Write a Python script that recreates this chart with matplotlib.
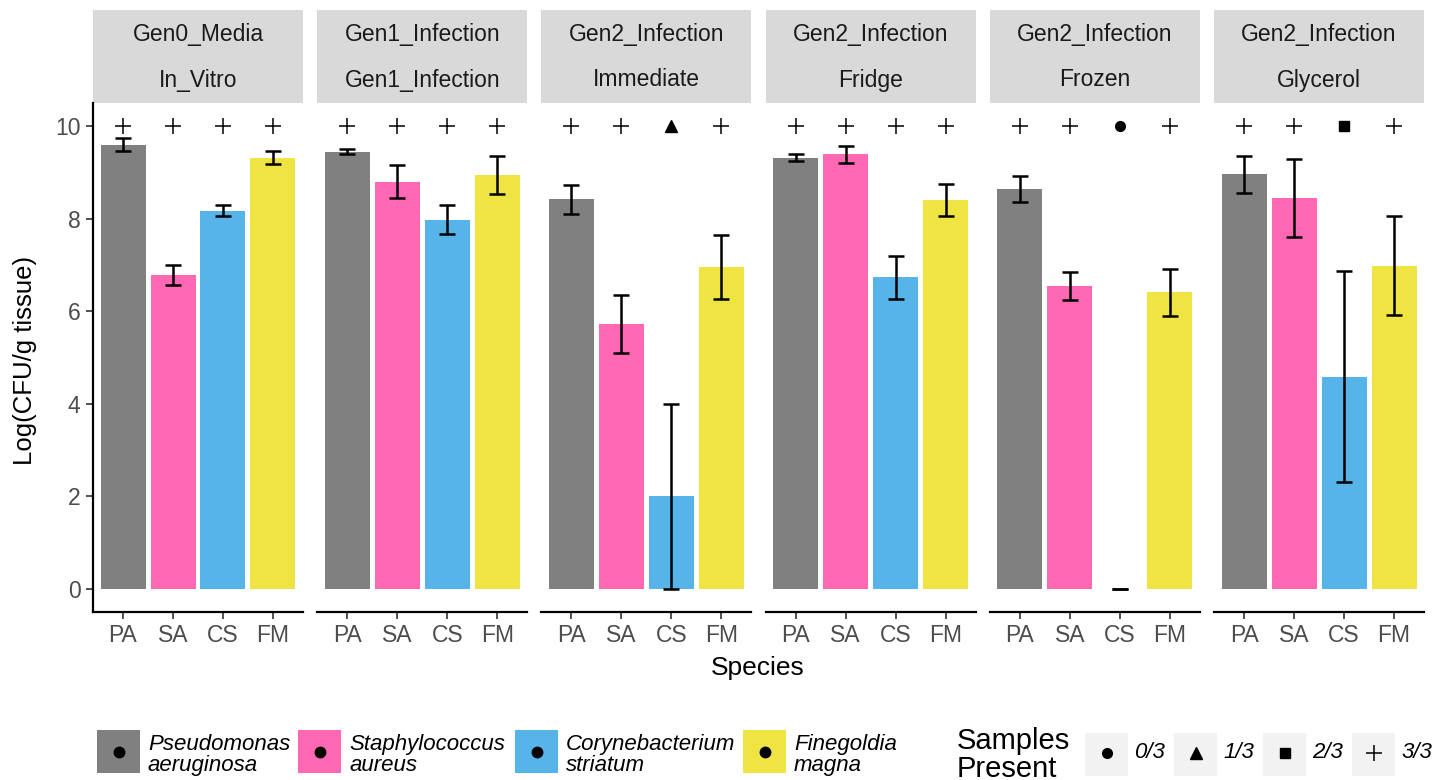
import numpy as np
import matplotlib
matplotlib.use("Agg")
import matplotlib.pyplot as plt
from matplotlib.patches import Rectangle

plt.rcParams['font.family'] = ['Liberation Sans', 'DejaVu Sans']

# ===== data =====
species = ['PA', 'SA', 'CS', 'FM']
species_full = ['Pseudomonas\naeruginosa', 'Staphylococcus\naureus',
                'Corynebacterium\nstriatum', 'Finegoldia\nmagna']
species_colors = ['#808080', '#FF69B4', '#56B4E9', '#F0E442']

strip_top = ['Gen0_Media', 'Gen1_Infection', 'Gen2_Infection',
             'Gen2_Infection', 'Gen2_Infection', 'Gen2_Infection']
strip_bottom = ['In_Vitro', 'Gen1_Infection', 'Immediate',
                'Fridge', 'Frozen', 'Glycerol']

mean_in_vitro = [9.60, 6.78, 8.17, 9.32]
mean_gen1 = [9.45, 8.80, 7.98, 8.94]
mean_immediate = [8.42, 5.72, 2.00, 6.95]
mean_fridge = [9.32, 9.39, 6.73, 8.40]
mean_frozen = [8.64, 6.54, 0.00, 6.41]
mean_glycerol = [8.96, 8.45, 4.58, 6.98]

err_in_vitro = [0.14, 0.22, 0.12, 0.14]
err_gen1 = [0.05, 0.35, 0.31, 0.41]
err_immediate = [0.31, 0.63, 2.00, 0.69]
err_fridge = [0.07, 0.18, 0.47, 0.34]
err_frozen = [0.28, 0.30, 0.00, 0.51]
err_glycerol = [0.40, 0.84, 2.28, 1.07]

present_in_vitro = ['3/3', '3/3', '3/3', '3/3']
present_gen1 = ['3/3', '3/3', '3/3', '3/3']
present_immediate = ['3/3', '3/3', '1/3', '3/3']
present_fridge = ['3/3', '3/3', '3/3', '3/3']
present_frozen = ['3/3', '3/3', '0/3', '3/3']
present_glycerol = ['3/3', '3/3', '2/3', '3/3']

present_levels = ['0/3', '1/3', '2/3', '3/3']
present_marker_y = 10

means = [mean_in_vitro, mean_gen1, mean_immediate, mean_fridge, mean_frozen, mean_glycerol]
errs = [err_in_vitro, err_gen1, err_immediate, err_fridge, err_frozen, err_glycerol]
presents = [present_in_vitro, present_gen1, present_immediate,
            present_fridge, present_frozen, present_glycerol]

# marker style per "samples present" level
shape = {'0/3': dict(marker='o', ms=7),
         '1/3': dict(marker='^', ms=9),
         '2/3': dict(marker='s', ms=7),
         '3/3': dict(marker='+', ms=12, mew=1.1)}

# ===== layout (pixels) =====
W, H = 1437, 780
fig = plt.figure(figsize=(W / 100, H / 100), dpi=100)


def px_axes(x0, y0, x1, y1, **kw):
    return fig.add_axes([x0 / W, 1 - y1 / H, (x1 - x0) / W, (y1 - y0) / H], **kw)


# overlay for strips + legends
ov = px_axes(0, 0, W, H)
ov.set_xlim(0, W)
ov.set_ylim(H, 0)
ov.axis('off')

x = np.arange(1, len(species) + 1)
PANEL_TOP, PANEL_BOT, PANEL_W, STEP = 103, 612, 210, 224.2

for i in range(6):
    left = 93 + i * STEP
    ax = px_axes(left, PANEL_TOP, left + PANEL_W, PANEL_BOT)
    ax.bar(x, means[i], width=0.9, color=species_colors, zorder=1)
    ax.errorbar(x, means[i], yerr=errs[i], fmt='none', ecolor='black',
                elinewidth=1.8, capsize=5.5, capthick=1.8, zorder=2)
    for xi, p in zip(x, presents[i]):
        ax.plot(xi, present_marker_y, color='black', linestyle='none', **shape[p])
    ax.set_xlim(0.4, 4.6)
    ax.set_ylim(-0.5, 10.5)
    ax.set_xticks(x)
    ax.set_xticklabels(species)
    for s in ['top', 'right']:
        ax.spines[s].set_visible(False)
    ax.spines['bottom'].set_linewidth(1.6)
    ax.tick_params(axis='both', labelsize=16.5, labelcolor='#4D4D4D',
                   color='#333333', length=5, width=1.2, pad=4)
    if i == 0:
        ax.set_yticks([0, 2, 4, 6, 8, 10])
        ax.spines['left'].set_linewidth(1.6)
    else:
        ax.set_yticks([])
        ax.spines['left'].set_visible(False)

    # facet strip
    ov.add_patch(Rectangle((left, 10), PANEL_W, PANEL_TOP - 10,
                           facecolor='#D9D9D9', edgecolor='none'))
    ov.text(left + PANEL_W / 2, 34, strip_top[i], ha='center', va='center',
            fontsize=16.5, color='#1A1A1A')
    ov.text(left + PANEL_W / 2, 80, strip_bottom[i], ha='center', va='center',
            fontsize=16.5, color='#1A1A1A')

fig.text(25 / W, 1 - 360 / H, 'Log(CFU/g tissue)', rotation=90,
         ha='center', va='center', fontsize=18.5)
fig.text(758 / W, 1 - 668 / H, 'Species', ha='center', va='center', fontsize=19)

# ===== species legend =====
key_x = [97, 298, 515, 743]
for kx, name, col in zip(key_x, species_full, species_colors):
    ov.add_patch(Rectangle((kx, 730), 43, 43, facecolor=col, edgecolor='none'))
    ov.plot(kx + 21.5, 751.5, 'o', color='black', ms=7.5)
    ov.text(kx + 51, 755, name, ha='left', va='center', fontsize=16,
            style='italic', linespacing=1.0)

# ===== samples present legend =====
ov.text(957, 727, 'Samples\nPresent', ha='left', va='top', fontsize=21,
        linespacing=1.0)
skey_x = [1085, 1174, 1263, 1352]
for kx, lev in zip(skey_x, present_levels):
    ov.add_patch(Rectangle((kx, 733), 43, 43, facecolor='#F2F2F2', edgecolor='none'))
    ov.plot(kx + 21.5, 753, color='black', linestyle='none', **shape[lev])
    ov.text(kx + 49, 753, lev, ha='left', va='center', fontsize=16, style='italic')

fig.savefig('out.png', dpi=100)
